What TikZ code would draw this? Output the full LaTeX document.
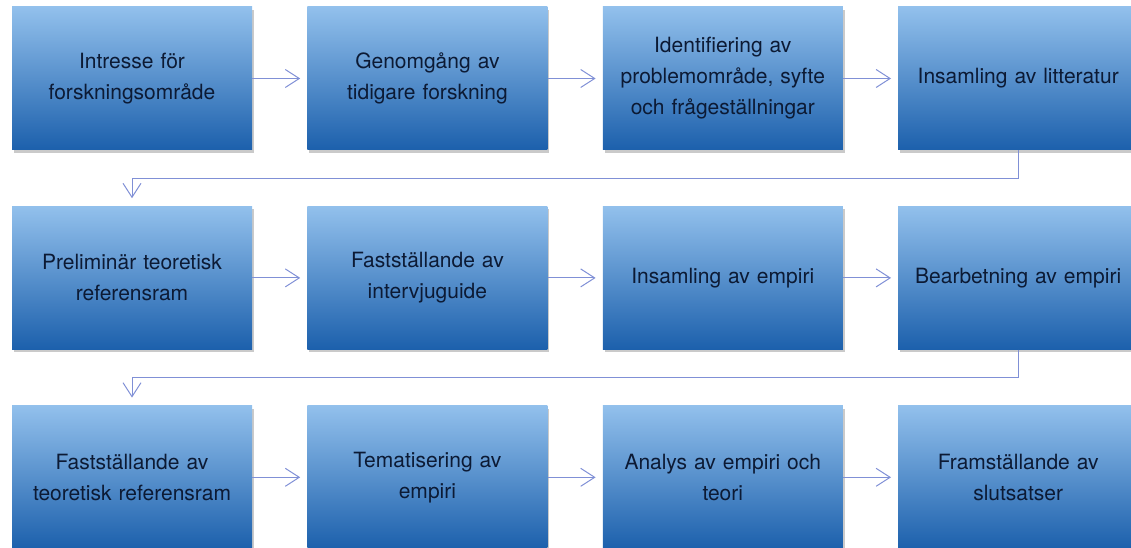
\documentclass[tikz,border=0pt]{standalone}
\usepackage{fontspec}
\setmainfont{TeX Gyre Heros}
\usetikzlibrary{arrows.meta, positioning, shadows}
\definecolor{boxtop}{RGB}{146,192,236}
\definecolor{boxmid}{RGB}{78,143,212}
\definecolor{boxbot}{RGB}{28,96,172}
\definecolor{boxtext}{RGB}{12,26,52}
\definecolor{flowline}{RGB}{128,144,214}
\tikzset{
node distance=55pt, % gap between two boxes in a row
stepbox/.style={rectangle, minimum width=240pt, minimum height=143pt, text width=228pt, align=center,
  top color=boxtop, middle color=boxmid, bottom color=boxbot, text=boxtext,
  font=\fontsize{21}{31}\selectfont,
  drop shadow={shadow xshift=2pt, shadow yshift=-3pt, opacity=0.35, fill=black!60}}, % the blue boxes
flow/.style={draw=flowline, line width=1pt, -{Straight Barb[length=14pt,width=18pt]}, shorten >=7pt}, % the thin arrows
}

\begin{document}
\begin{tikzpicture}
      \useasboundingbox (0,0) rectangle (1131pt,-548pt);

      % first row
      \node[stepbox] (s1) at (132pt,-78.5pt) {Intresse för\\forskningsområde};
      \node[stepbox, right=of s1] (s2) {Genomgång av\\tidigare forskning};
      \node[stepbox, right=of s2] (s3) {Identifiering av\\problemområde, syfte\\och frågeställningar};
      \node[stepbox, right=of s3] (s4) {Insamling av litteratur};

      % second row
      \node[stepbox, below=56pt of s1] (s5) {Preliminär teoretisk\\referensram};
      \node[stepbox, right=of s5] (s6) {Fastställande av\\intervjuguide};
      \node[stepbox, right=of s6] (s7) {Insamling av empiri};
      \node[stepbox, right=of s7] (s8) {Bearbetning av empiri};

      % third row
      \node[stepbox, below=56pt of s5] (s9) {Fastställande av\\teoretisk referensram};
      \node[stepbox, right=of s9] (s10) {Tematisering av\\empiri};
      \node[stepbox, right=of s10] (s11) {Analys av empiri och\\teori};
      \node[stepbox, right=of s11] (s12) {Framställande av\\slutsatser};

      \draw[flow] (s1) -- (s2);
      \draw[flow] (s2) -- (s3);
      \draw[flow] (s3) -- (s4);
      \draw[flow, shorten >=8pt] (s4.south) -- ++(0,-28pt) -| (s5.north);
      \draw[flow] (s5) -- (s6);
      \draw[flow] (s6) -- (s7);
      \draw[flow] (s7) -- (s8);
      \draw[flow, shorten >=8pt] (s8.south) -- ++(0,-28pt) -| (s9.north);
      \draw[flow] (s9) -- (s10);
      \draw[flow] (s10) -- (s11);
      \draw[flow] (s11) -- (s12);
\end{tikzpicture}
\end{document}
